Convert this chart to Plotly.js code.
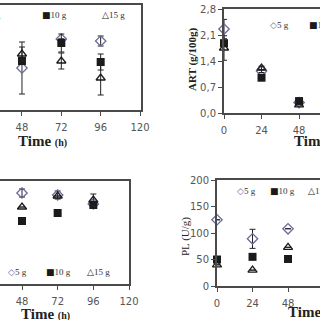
<!DOCTYPE html>
<html><head><meta charset="utf-8">
<script src="https://cdn.plot.ly/plotly-3.0.1.min.js"></script>
<style>html,body{margin:0;padding:0;background:#fff}</style>
</head><body><div id="plot" style="width:320px;height:320px"></div>
<script>
// ---- data ----
const series = ['5 g', '10 g', '15 g'];
const seriesGlyph = ['◇', '■', '△'];
// top-left panel (y axis off-picture)
const tlTime = [48, 72, 96];
const tl5 = [42, 71, 69];   const tl5Err = [26, 0, 5];
const tl10 = [49, 67, 48];  const tl10Err = [0, 9, 8];
const tl15 = [56, 49, 32];  const tl15Err = [7, 8, 17];
// top-right panel: ART (g/100g)
const trTime = [0, 24, 48];
const tr5 = [2.26, 1.13, 0.28];  const tr5Err = [0.26, 0.04, 0];
const tr10 = [1.88, 0.95, 0.32]; const tr10Err = [0, 0, 0.08];
const tr15 = [1.75, 1.21, 0.22]; const tr15Err = [0.33, 0.05, 0];
// bottom-left panel (y axis off-picture)
const blTime = [48, 72, 96];
const bl5 = [91, 89, 80];   const bl5Err = [4, 4, 0];
const bl10 = [63, 71, 79];  const bl10Err = [0, 0, 0];
const bl15 = [77, 88, 84];  const bl15Err = [0, 0, 6];
// bottom-right panel: PL (U/g)
const brTime = [0, 24, 48];
const br5 = [125, 89, 108]; const br5Err = [0, 18, 0];
const br10 = [50, 55, 51];  const br10Err = [0, 0, 0];
const br15 = [40, 30, 73];  const br15Err = [0, 0, 0];

const seriesColor = ['#6a6a9c', '#1a1a1a', '#1a1a1a'];
const markers = [
  {symbol: 'diamond-open', size: 8, color: seriesColor[0], line: {width: 1.3}},
  {symbol: 'square', size: 8, color: seriesColor[1], line: {width: 0}},
  {symbol: 'triangle-up-open', size: 8, color: seriesColor[2], line: {width: 1.3}}
];
const panels = [
  {t: tlTime, ys: [tl5, tl10, tl15], es: [tl5Err, tl10Err, tl15Err], xa: 'x', ya: 'y'},
  {t: trTime, ys: [tr5, tr10, tr15], es: [tr5Err, tr10Err, tr15Err], xa: 'x2', ya: 'y2'},
  {t: blTime, ys: [bl5, bl10, bl15], es: [bl5Err, bl10Err, bl15Err], xa: 'x3', ya: 'y3'},
  {t: brTime, ys: [br5, br10, br15], es: [br5Err, br10Err, br15Err], xa: 'x4', ya: 'y4'}
];
const traces = [];
panels.forEach(p => {
  p.ys.forEach((y, i) => {
    traces.push({
      type: 'scatter', mode: 'markers', name: series[i], showlegend: false,
      x: p.t, y: y, xaxis: p.xa, yaxis: p.ya,
      marker: markers[i], cliponaxis: false,
      error_y: {type: 'data', array: p.es[i], visible: true, color: '#222', thickness: 1, width: 3}
    });
  });
});

const W = 320;
const px = v => v / W, py = v => 1 - v / W;
const lineC = '#4a4a4a';
const tickFont = {family: 'DejaVu Sans', size: 10, color: '#555'};
const xBase = {showline: true, mirror: true, linecolor: lineC, linewidth: 2, showgrid: false, zeroline: false,
  ticks: 'outside', ticklen: 4, tickcolor: lineC, tickfont: tickFont, ticklabelstandoff: 3, dtick: 24, tick0: 0};
const hiddenY = {side: 'right', showline: true, linecolor: lineC, linewidth: 2, showgrid: false, zeroline: false,
  ticks: '', showticklabels: false};
const shownY = {showline: true, linecolor: lineC, linewidth: 2, showgrid: false, zeroline: false,
  ticks: 'outside', ticklen: 4, tickcolor: lineC, tickfont: tickFont};

// legend keys as annotations (left edge of first key, spacing, y) per panel
const keyRows = [
  {x0: -20, gaps: [0, 60, 120], y: 15},
  {x0: 268, gaps: [0, 39, 78], y: 25},
  {x0: 6, gaps: [0, 38, 79], y: 272},
  {x0: 235, gaps: [0, 33, 71], y: 191}
];
const annotations = [];
keyRows.forEach(r => {
  series.forEach((s, i) => {
    annotations.push({
      text: '<span style="font-family:DejaVu Sans;font-size:9px;color:' + seriesColor[i] + '">' + seriesGlyph[i] + '</span>' + s,
      x: px(r.x0 + r.gaps[i]), y: py(r.y), xref: 'paper', yref: 'paper', xanchor: 'left', yanchor: 'middle',
      showarrow: false, font: {family: 'Liberation Serif', size: 9, color: '#333'}
    });
  });
});
const timeText = '<b>Time</b> <span style="font-size:10px"><b>(h)</b></span>';
[[16, 141], [292, 141], [19, 314], [286, 312]].forEach(p => {
  annotations.push({text: timeText, x: px(p[0]), y: py(p[1]), xref: 'paper', yref: 'paper', xanchor: 'left', yanchor: 'middle',
    showarrow: false, font: {family: 'Liberation Serif', size: 15, color: '#222'}});
});
annotations.push({text: '<b>ART (g/100g)</b>', textangle: -90, x: px(193), y: py(59), xref: 'paper', yref: 'paper', xanchor: 'center', yanchor: 'middle', showarrow: false, font: {family: 'Liberation Serif', size: 11, color: '#222'}});
annotations.push({text: 'PL (U/g)', textangle: -90, x: px(185), y: py(237), xref: 'paper', yref: 'paper', xanchor: 'center', yanchor: 'middle', showarrow: false, font: {family: 'Liberation Serif', size: 11, color: '#222'}});

const layout = {
  width: 320, height: 320, margin: {l: 0, r: 0, t: 0, b: 0, autoexpand: false},
  paper_bgcolor: '#fff', plot_bgcolor: 'rgba(0,0,0,0)', separators: ', ', showlegend: false,
  xaxis:  Object.assign({}, xBase, {domain: [0, px(141)], range: [34.6, 120.6], anchor: 'y'}),
  yaxis:  Object.assign({}, hiddenY, {domain: [py(110), py(5)], range: [0, 105], anchor: 'x'}),
  xaxis2: Object.assign({}, xBase, {domain: [px(224), 1], range: [0, 61.4], anchor: 'y2'}),
  yaxis2: Object.assign({}, shownY, {domain: [py(113), py(9)], range: [0, 2.8], dtick: 0.7, tick0: 0, tickformat: '.1f', anchor: 'x2'}),
  xaxis3: Object.assign({}, xBase, {domain: [0, px(129)], range: [33.2, 120], anchor: 'y3'}),
  yaxis3: Object.assign({}, hiddenY, {domain: [py(284), py(181)], range: [0, 103], anchor: 'x3'}),
  xaxis4: Object.assign({}, xBase, {domain: [px(217), 1], range: [0, 69.6], anchor: 'y4'}),
  yaxis4: Object.assign({}, shownY, {domain: [py(286), py(180)], range: [0, 200], dtick: 50, tick0: 0, anchor: 'x4'}),
  annotations: annotations
};
Plotly.newPlot('plot', traces, layout, {displayModeBar: false, staticPlot: true});
</script></body></html>
